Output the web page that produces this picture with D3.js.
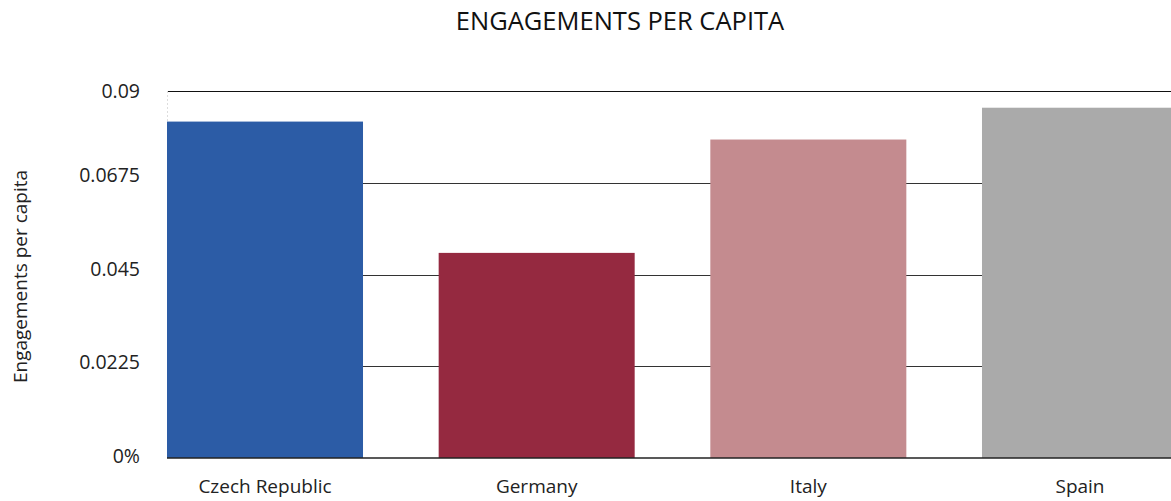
<!DOCTYPE html>
<html>
<head>
<meta charset="utf-8">
<script src="https://cdn.jsdelivr.net/npm/d3@7"></script>
<style>
  html, body { margin: 0; padding: 0; background: #fff; overflow: hidden; }
  svg { display: block; font-family: "Open Sans", "Noto Sans", sans-serif; }
</style>
</head>
<body>
<svg id="chart" width="1171" height="501"></svg>
<script>
// Engagements per capita by country
const countries = ["Czech Republic", "Germany", "Italy", "Spain"];
const values = [0.0825, 0.0503, 0.0781, 0.0859];
const barColors = ["#2c5ca6", "#952940", "#c48b8f", "#aaaaaa"];
const yTicks = [0, 0.0225, 0.045, 0.0675, 0.09];
const yTickLabels = ["0%", "0.0225", "0.045", "0.0675", "0.09"];

(function () {
  const svg = d3.select("#chart");
  const plotLeft = 167, plotRight = 1178, plotTop = 91, plotBottom = 458;

  const x = d3.scaleBand()
    .domain(countries)
    .range([plotLeft, plotRight])
    .paddingInner(0.2785)
    .paddingOuter(0);

  const y = d3.scaleLinear()
    .domain([0, 0.09])
    .range([plotBottom, plotTop]);

  // tick labels sit on a slightly wider spacing than the grid; the top one is kept inside
  const yLabel = d3.scaleLinear()
    .domain([0, 0.09])
    .range([plotBottom + 4.5, plotTop - 2]);

  // horizontal grid lines
  svg.append("g")
    .selectAll("line")
    .data(yTicks.slice(1))
    .join("line")
    .attr("x1", plotLeft)
    .attr("x2", plotRight)
    .attr("y1", d => Math.round(y(d)) + 0.5)
    .attr("y2", d => Math.round(y(d)) + 0.5)
    .attr("stroke", d => d === 0.09 ? "#111" : "#333")
    .attr("stroke-width", 1.2);

  // faint vertical axis line
  svg.append("line")
    .attr("x1", plotLeft + 0.5).attr("x2", plotLeft + 0.5)
    .attr("y1", plotTop).attr("y2", plotBottom)
    .attr("stroke", "#ddd")
    .attr("stroke-dasharray", "2,2");

  // bars
  svg.append("g")
    .selectAll("rect")
    .data(countries)
    .join("rect")
    .attr("x", d => x(d))
    .attr("width", x.bandwidth())
    .attr("y", (d, i) => y(values[i]))
    .attr("height", (d, i) => y(0) - y(values[i]))
    .attr("fill", (d, i) => barColors[i]);

  // baseline
  svg.append("line")
    .attr("x1", plotLeft).attr("x2", plotRight)
    .attr("y1", plotBottom).attr("y2", plotBottom)
    .attr("stroke", "#222")
    .attr("stroke-width", 1.5);

  // y tick labels
  svg.append("g")
    .selectAll("text")
    .data(yTicks)
    .join("text")
    .attr("x", plotLeft - 27)
    .attr("y", d => Math.max(yLabel(d), plotTop + 7))
    .attr("text-anchor", "end")
    .attr("font-size", 19.5)
    .attr("fill", "#222")
    .text((d, i) => yTickLabels[i]);

  // x category labels
  const xAxis = d3.axisBottom(x).tickSize(0).tickPadding(0);
  const gx = svg.append("g")
    .attr("transform", `translate(0,${plotBottom})`)
    .call(xAxis);
  gx.select(".domain").remove();
  gx.selectAll("text")
    .attr("y", 35)
    .attr("dy", null)
    .attr("font-size", 19)
    .attr("fill", "#222")
    .attr("font-family", "'Open Sans', 'Noto Sans', sans-serif");

  // y axis title
  svg.append("text")
    .attr("transform", `translate(27,${(plotTop + plotBottom) / 2 + 2}) rotate(-90)`)
    .attr("text-anchor", "middle")
    .attr("font-size", 19)
    .attr("fill", "#222")
    .text("Engagements per capita");

  // chart title
  svg.append("text")
    .attr("x", 620)
    .attr("y", 29.5)
    .attr("text-anchor", "middle")
    .attr("font-size", 25.5)
    .attr("fill", "#111")
    .text("ENGAGEMENTS PER CAPITA");
})();
</script>
</body>
</html>
